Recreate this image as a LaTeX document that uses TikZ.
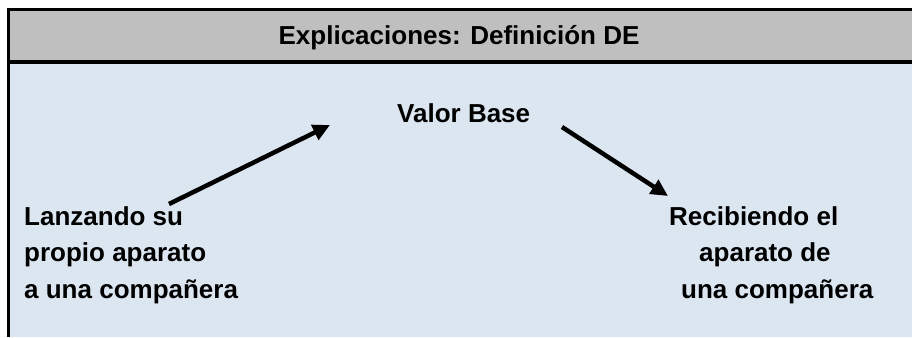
\documentclass[tikz,border=0pt]{standalone}
\usepackage{fontspec}
\setmainfont{Liberation Sans}
\usetikzlibrary{arrows.meta}
\definecolor{headgray}{HTML}{BFBFBF}
\definecolor{bodyblue}{HTML}{DCE6F1}
\tikzset{
  lbl/.style={inner sep=0pt, font=\bfseries\fontsize{26}{36.5}\selectfont, align=left},
  arr/.style={line width=4.5pt, -{Triangle[length=17pt,width=16pt]}},
  frame/.style={line width=3pt}
}
\begin{document}
\begin{tikzpicture}[x=1pt,y=-1pt]
\useasboundingbox (0,0) rectangle (912,337);
\fill[white] (0,0) rectangle (912,337);
\fill[headgray] (8.5,10) rectangle (912,62);
\fill[bodyblue] (8.5,62) rectangle (912,337);
\draw[frame] (912,10) -- (8.5,10) -- (8.5,337);
\draw[frame] (8.5,62) -- (912,62);
\node[lbl, anchor=base] (title) at (459,45) {Explicaciones: Definición DE};
\node[lbl, anchor=base west] (base) at (397,122) {Valor Base};
\node[lbl, anchor=base west] (left) at (24,298) {Lanzando su\\propio aparato\\a una compañera};
\node[lbl, anchor=base west] (right) at (669,298) {Recibiendo el\\\hspace*{30pt}aparato de\\\hspace*{12pt}una compañera};
\coordinate (a1) at (169,204);
\coordinate (a2) at (330,125);
\coordinate (b1) at (562,127);
\coordinate (b2) at (668,196);
\draw[arr] (a1) -- (a2);
\draw[arr] (b1) -- (b2);
\end{tikzpicture}
\end{document}
